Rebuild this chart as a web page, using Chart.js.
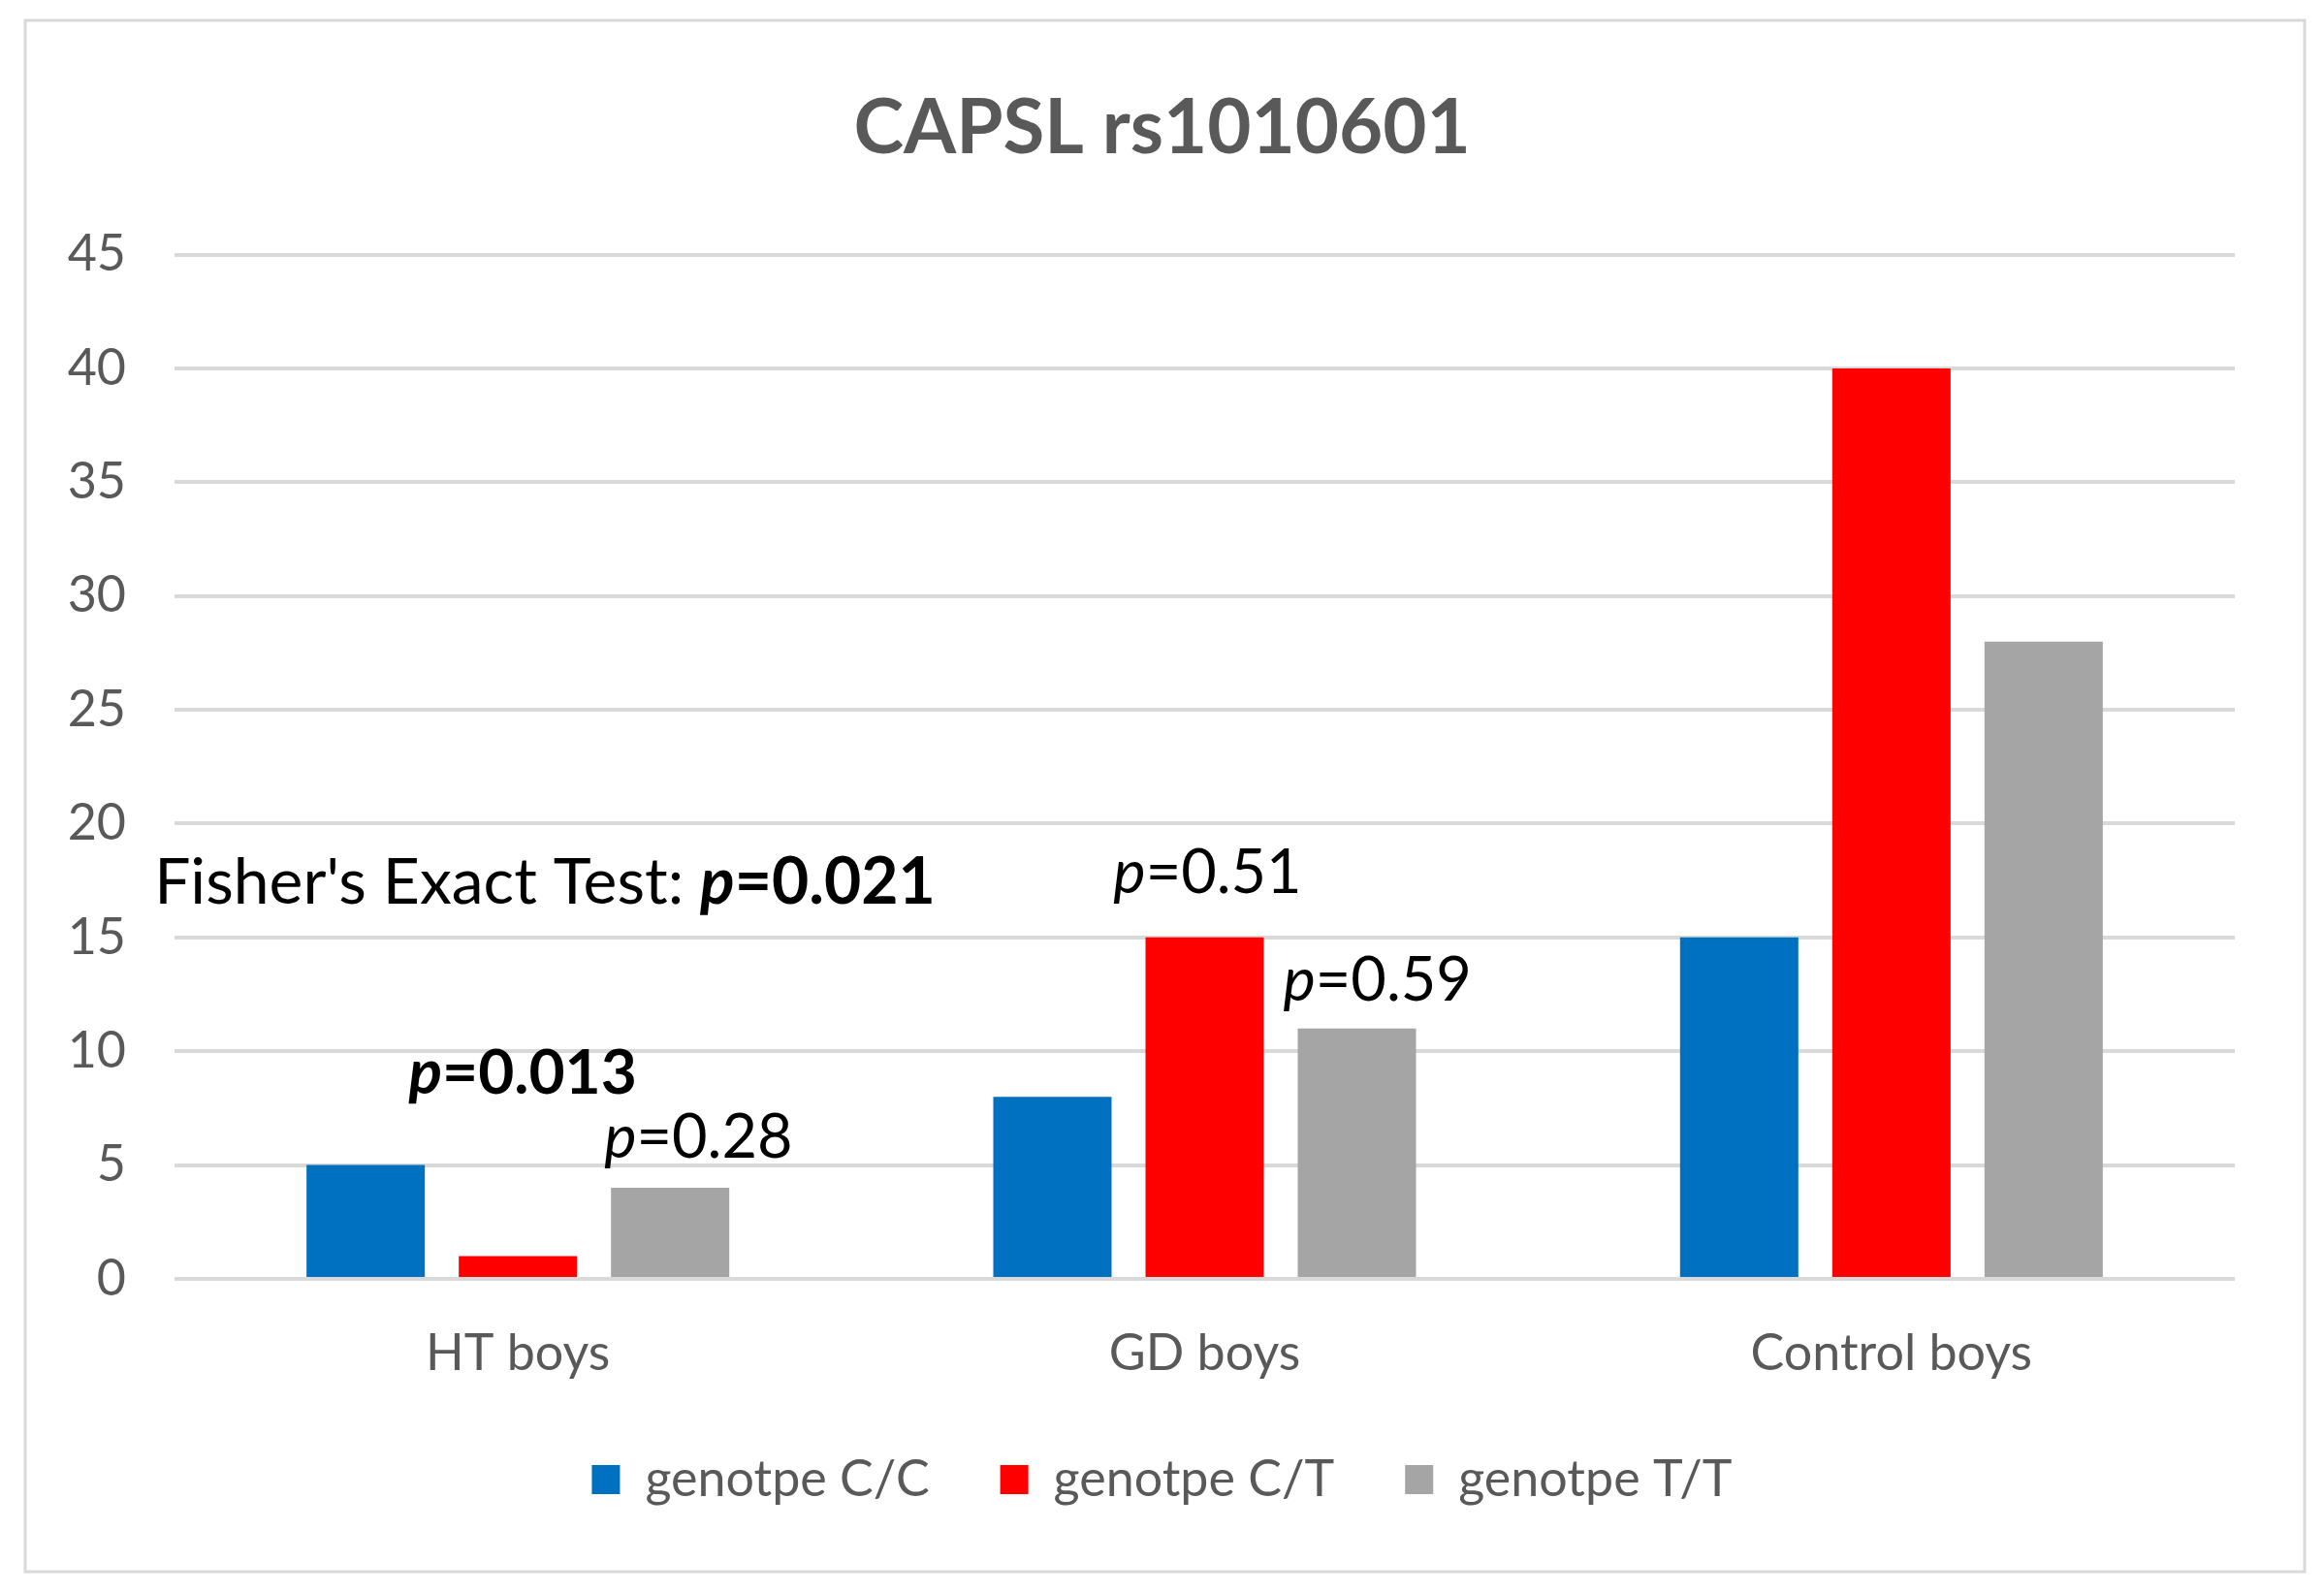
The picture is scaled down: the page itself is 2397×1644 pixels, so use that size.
<!DOCTYPE html>
<html>
<head>
<meta charset="utf-8">
<script src="https://cdn.jsdelivr.net/npm/chart.js@4"></script>
<style>
  html, body { margin: 0; padding: 0; background: #ffffff; }
  #c { display: block; }
</style>
</head>
<body>
<canvas id="c" width="2397" height="1644"></canvas>
<script>
// ---- data ----
const categories = ['HT boys', 'GD boys', 'Control boys'];
const seriesNames = ['genotpe C/C', 'genotpe C/T', 'genotpe T/T'];
const genotypeCC = [5, 8, 15];
const genotypeCT = [1, 15, 40];
const genotypeTT = [4, 11, 28];
const yTicks = [0, 5, 10, 15, 20, 25, 30, 35, 40, 45];
const fisherLabel = "Fisher's Exact Test: ";
const fisherP = '0.021';
const pHT_CT = '0.013';
const pHT_TT = '0.28';
const pGD_CT = '0.51';
const pGD_TT = '0.59';

const FONT = "Lato, 'Open Sans', 'Noto Sans', sans-serif";
const colors = ['#0070C0', '#FF0000', '#A5A5A5'];

const background = {
  id: 'background',
  beforeDraw(chart) {
    const ctx = chart.ctx;
    ctx.save();
    ctx.fillStyle = '#ffffff';
    ctx.fillRect(0, 0, chart.width, chart.height);
    ctx.strokeStyle = '#d9d9d9';
    ctx.lineWidth = 3;
    ctx.strokeRect(26, 21, 2351, 1600);
    ctx.restore();
  }
};

function drawRuns(ctx, runs, x, y, align) {
  let total = 0;
  runs.forEach(r => { ctx.font = r.font; r.w = ctx.measureText(r.text).width; total += r.w; });
  let cx = align === 'center' ? x - total / 2 : x;
  ctx.textAlign = 'left';
  ctx.textBaseline = 'middle';
  runs.forEach(r => { ctx.font = r.font; ctx.fillText(r.text, cx, y); cx += r.w; });
}

const annotations = {
  id: 'annotations',
  afterDatasetsDraw(chart) {
    const ctx = chart.ctx;
    const ys = chart.scales.y;
    const bar = (d, i) => chart.getDatasetMeta(d).data[i];
    const f = (style, sz) => `${style} ${sz}px ${FONT}`;
    ctx.save();
    ctx.fillStyle = '#000000';
    // Fisher's exact test
    const b0 = bar(0, 0);
    drawRuns(ctx, [{text: fisherLabel, font: f('normal', 66)}, {text: 'p', font: f('italic bold', 66)}, {text: '=' + fisherP, font: f('bold', 66)}],
      b0.x - b0.width / 2 - 157, ys.getPixelForValue(17.4), 'left');
    // HT C/T
    const b1 = bar(1, 0);
    drawRuns(ctx, [{text: 'p', font: f('italic bold', 64)}, {text: '=' + pHT_CT, font: f('bold', 64)}],
      b1.x + 5, ys.getPixelForValue(9.0), 'center');
    // HT T/T
    const b2 = bar(2, 0);
    drawRuns(ctx, [{text: 'p', font: f('italic', 63)}, {text: '=' + pHT_TT, font: f('normal', 63)}],
      b2.x - b2.width / 2 - 7, ys.getPixelForValue(6.2), 'left');
    // GD C/T
    const b3 = bar(1, 1);
    drawRuns(ctx, [{text: 'p', font: f('italic', 63)}, {text: '=' + pGD_CT, font: f('normal', 63)}],
      b3.x + 3, ys.getPixelForValue(17.8), 'center');
    // GD T/T
    const b4 = bar(2, 1);
    drawRuns(ctx, [{text: 'p', font: f('italic', 63)}, {text: '=' + pGD_TT, font: f('normal', 63)}],
      b4.x - b4.width / 2 - 15, ys.getPixelForValue(13.1), 'left');
    ctx.restore();
  }
};

const data = {
  labels: categories,
  datasets: [genotypeCC, genotypeCT, genotypeTT].map((vals, i) => ({
    label: seriesNames[i],
    data: vals,
    backgroundColor: colors[i],
    borderWidth: 0,
    yAxisID: 'y',
    categoryPercentage: 0.665,
    barPercentage: 0.777
  }))
};

new Chart(document.getElementById('c'), {
  type: 'bar',
  data: data,
  plugins: [background, annotations],
  options: {
    responsive: false,
    devicePixelRatio: 1,
    animation: false,
    layout: { padding: { top: 0, left: 0, right: 0, bottom: 82 } },
    plugins: {
      tooltip: { enabled: false },
      title: {
        display: true,
        text: 'CAPSL rs1010601',
        color: '#595959',
        font: { family: FONT, size: 78, weight: 'bold' },
        padding: { top: 86, bottom: 83 }
      },
      legend: {
        display: true,
        position: 'bottom',
        labels: {
          color: '#595959',
          font: { family: FONT, size: 52 },
          boxWidth: 29,
          boxHeight: 30,
          padding: 73
        }
      }
    },
    scales: {
      x: {
        grid: { display: false, drawTicks: false },
        border: { display: false },
        ticks: { color: '#595959', font: { family: FONT, size: 52 }, padding: 46 },
        afterFit(scale) { scale.height = 108; }
      },
      y: {
        position: 'left',
        min: 0,
        max: 45,
        afterBuildTicks(scale) { scale.ticks = yTicks.map(v => ({ value: v })); },
        grid: { color: '#d9d9d9', lineWidth: 4, drawTicks: false },
        border: { display: false },
        ticks: { color: '#595959', font: { family: FONT, size: 52 }, padding: 50 },
        afterFit(scale) { scale.width = 180; }
      },
      yRight: {
        type: 'linear',
        position: 'right',
        display: true,
        min: 0,
        max: 45,
        grid: { display: false, drawTicks: false },
        border: { display: false },
        ticks: { display: false },
        afterFit(scale) { scale.width = 92; }
      }
    }
  }
});
</script>
</body>
</html>
